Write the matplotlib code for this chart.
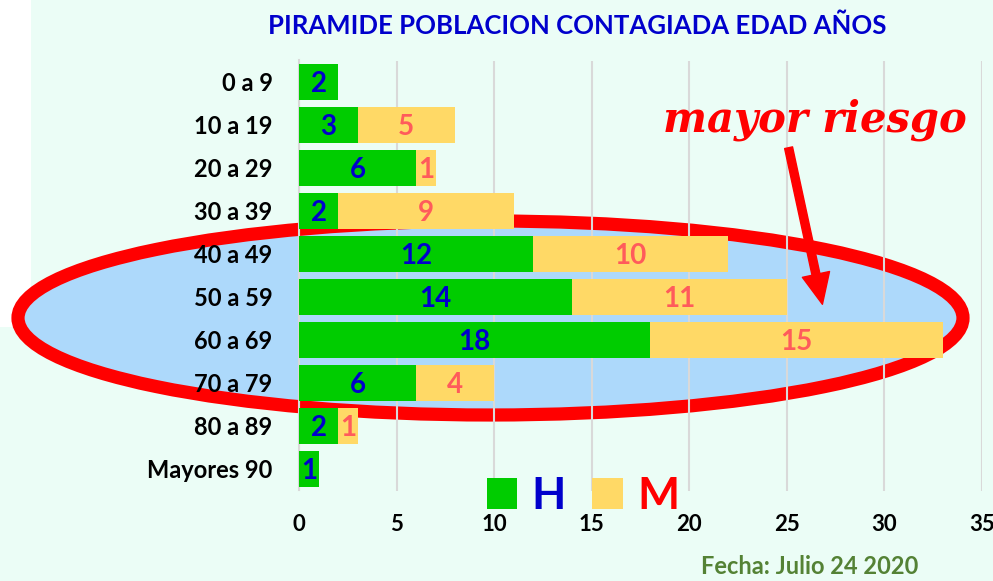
import matplotlib
matplotlib.use("Agg")
import matplotlib.pyplot as plt
from matplotlib.patches import Ellipse, Rectangle, FancyArrowPatch, Patch

categories = ["0 a 9", "10 a 19", "20 a 29", "30 a 39", "40 a 49", "50 a 59",
              "60 a 69", "70 a 79", "80 a 89", "Mayores 90"]
hombres = [2, 3, 6, 2, 12, 14, 18, 6, 2, 1]
mujeres = [0, 5, 1, 9, 10, 11, 15, 4, 1, 0]
xticks = [0, 5, 10, 15, 20, 25, 30, 35]

W, H = 993, 581
BG = "#EBFDF6"
GREEN = "#00CC00"
YELLOW = "#FFD966"
BLUE_TXT = "#0000CC"
SALMON = "#FF5B5B"
FONT = "Lato"

fig = plt.figure(figsize=(W / 100, H / 100), dpi=100)
fig.patch.set_facecolor(BG)

# white strip at left
fig.patches.append(Rectangle((0, 1 - 327 / H), 31 / W, 327 / H, transform=fig.transFigure,
                             facecolor="white", edgecolor="none", zorder=-5))

# ellipse highlight (behind axes)
fig.patches.append(Ellipse((490.5 / W, 1 - 318 / H), 945 / W, 194 / H, transform=fig.transFigure,
                           facecolor="#ADD9FB", edgecolor="#FF0000", linewidth=9.5, zorder=-2))

ax = fig.add_axes([299 / W, 1 - 490.5 / H, (982 - 299) / W, 430 / H])
ax.set_facecolor("none")
ax.set_zorder(1)

y = list(range(len(categories)))
ax.barh(y, hombres, height=0.86, color=GREEN, zorder=3)
ax.barh(y, mujeres, left=hombres, height=0.86, color=YELLOW, zorder=3)

for i, (h, m) in enumerate(zip(hombres, mujeres)):
    if h:
        ax.text(h / 2, i + 0.05, str(h), ha="center", va="center", color=BLUE_TXT,
                fontsize=20, fontweight="bold", family=FONT, zorder=4)
    if m:
        ax.text(h + m / 2, i + 0.05, str(m), ha="center", va="center", color=SALMON,
                fontsize=20, fontweight="bold", family=FONT, zorder=4)

ax.set_xlim(0, 35)
ax.set_ylim(9.5, -0.5)
ax.set_xticks(xticks)
ax.set_yticks(y)
ax.set_yticklabels(categories, fontsize=17, fontweight="bold", family=FONT)
ax.set_xticklabels([str(t) for t in xticks], fontsize=16, fontweight="bold", family=FONT)
ax.tick_params(axis="both", length=0)
ax.tick_params(axis="y", pad=19)
ax.tick_params(axis="x", pad=17)
ax.xaxis.grid(True, color="#D9D9D9", linewidth=1.5, zorder=0)
ax.set_axisbelow(True)
for s in ["top", "right", "bottom"]:
    ax.spines[s].set_visible(False)
ax.spines["left"].set_color("#D9D9D9")
ax.spines["left"].set_linewidth(1.5)

# legend
handles = [Patch(facecolor=GREEN, edgecolor="none"), Patch(facecolor=YELLOW, edgecolor="none")]
leg = fig.legend(handles, ["H", "M"], loc="center", bbox_to_anchor=(583 / W, 1 - 496 / H),
                 ncol=2, frameon=False, prop={"family": FONT, "size": 32, "weight": "bold"},
                 handlelength=0.68, handleheight=0.68, handletextpad=0.32, columnspacing=0.6,
                 labelcolor=[BLUE_TXT, "#FF0000"])
leg.set_zorder(6)

# title
fig.text(577 / W, 1 - 26 / H, "PIRAMIDE POBLACION CONTAGIADA EDAD AÑOS", ha="center", va="center",
         color=BLUE_TXT, fontsize=18.5, fontweight="bold", family=FONT)

# annotation
fig.text(815 / W, 1 - 120 / H, "mayor riesgo", ha="center", va="center", color="#FF0000",
         fontsize=30, fontweight="bold", style="italic", family="DejaVu Serif")
arrow = FancyArrowPatch((788, H - 145), (823, H - 307), transform=None,
                        arrowstyle="simple,head_width=2.0,head_length=2.2,tail_width=0.58",
                        mutation_scale=10, color="#FF0000", zorder=7)
fig.patches.append(arrow)

fig.text(810 / W, 1 - 567 / H, "Fecha: Julio 24 2020", ha="center", va="center",
         color="#548235", fontsize=17, fontweight="bold", family=FONT)

fig.savefig("out.png", dpi=100, facecolor=BG)
